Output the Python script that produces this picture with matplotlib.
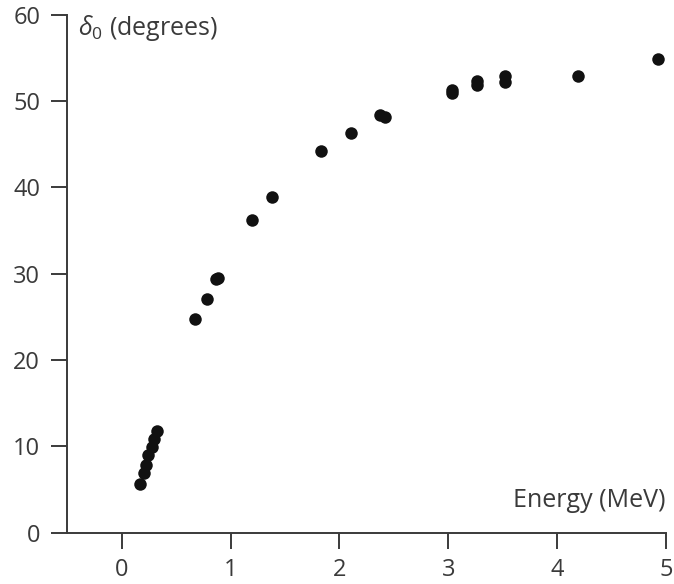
import matplotlib
matplotlib.use("Agg")
import matplotlib.pyplot as plt

plt.rcParams["font.family"] = ["Open Sans", "DejaVu Sans"]
plt.rcParams["mathtext.fontset"] = "custom"
plt.rcParams["mathtext.it"] = "Open Sans:italic"
plt.rcParams["mathtext.rm"] = "Open Sans"

# s-wave phase shift versus energy
energy = [0.168, 0.20, 0.22, 0.245, 0.275, 0.30, 0.327,
          0.670, 0.781, 0.862, 0.880, 1.197, 1.383, 1.830, 2.103,
          2.372, 2.418, 3.036, 3.036, 3.265, 3.265, 3.523, 3.523,
          4.193, 4.927]
delta0 = [5.7, 6.9, 7.8, 9.0, 9.9, 10.9, 11.8,
          24.7, 27.1, 29.4, 29.5, 36.2, 38.9, 44.2, 46.3,
          48.4, 48.1, 51.3, 50.9, 52.3, 51.9, 52.9, 52.2,
          52.9, 54.9]

xticks = [0, 1, 2, 3, 4, 5]
yticks = [0, 10, 20, 30, 40, 50, 60]

ink = "#3a3a3a"
fs = 17
label_fs = 18

fig = plt.figure(figsize=(6.74, 5.84), dpi=100)
ax = fig.add_axes([0.0999, 0.0878, 0.8882, 0.887])

ax.plot(energy, delta0, "o", color="#111111", markersize=9, markeredgewidth=0)

ax.set_xlim(-0.5, 5)
ax.set_ylim(0, 60)
ax.set_xticks(xticks)
ax.set_yticks(yticks)

for side in ("top", "right"):
    ax.spines[side].set_visible(False)
for side in ("left", "bottom"):
    ax.spines[side].set_color(ink)
    ax.spines[side].set_linewidth(1.4)

ax.tick_params(direction="out", length=11.5, width=1.4, color=ink,
               labelcolor=ink, labelsize=fs)
ax.tick_params(axis="x", pad=7)
ax.tick_params(axis="y", pad=8)

ax.text(0.018, 0.975, r"$\delta_0$ (degrees)", transform=ax.transAxes,
        ha="left", va="center", fontsize=label_fs, color=ink)
ax.text(1.0, 0.063, "Energy (MeV)", transform=ax.transAxes,
        ha="right", va="center", fontsize=label_fs, color=ink)

fig.savefig("out.png", dpi=100)
